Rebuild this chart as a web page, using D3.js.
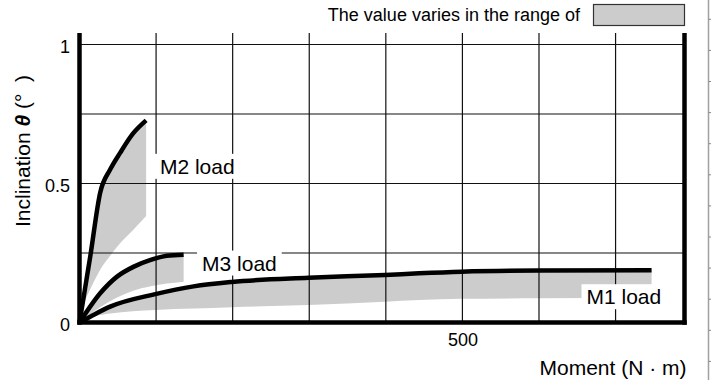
<!DOCTYPE html>
<html>
<head>
<meta charset="utf-8">
<script src="https://cdn.jsdelivr.net/npm/d3@7"></script>
<style>
  body { margin: 0; background: #fff; }
  svg { display: block; font-family: "Liberation Sans", Arial, Helvetica, sans-serif; }
</style>
</head>
<body>
<svg id="chart" width="711" height="380"></svg>
<script>
// Moment (N·m) sample points and inclination (deg) for each load case.
// "upper" is the typical curve, "lower" the bottom of the spread band.
const m1Moment = [0, 20, 40, 99, 149, 199, 299, 399, 443, 499, 599, 747];
const m1Upper  = [0, 0.03, 0.057, 0.102, 0.13, 0.146, 0.161, 0.171, 0.177, 0.183, 0.187, 0.188];
const m1Lower  = [0, 0.022, 0.032, 0.045, 0.05, 0.055, 0.063, 0.075, 0.081, 0.085, 0.087, 0.09];

const m2Moment = [0, 9, 14, 27, 40, 53, 70, 87];
const m2Upper  = [0, 0.152, 0.237, 0.467, 0.55, 0.61, 0.68, 0.727];
const m2Lower  = [0, 0.09, 0.12, 0.19, 0.24, 0.285, 0.333, 0.383];

const m3Moment = [0, 27, 49, 71, 93, 114, 136];
const m3Upper  = [0, 0.105, 0.165, 0.201, 0.225, 0.24, 0.244];
const m3Lower  = [0, 0.055, 0.09, 0.115, 0.13, 0.14, 0.147];

// Series labels and where they sit (moment, inclination at label middle-left)
const seriesNames   = ["M1 load", "M2 load", "M3 load"];
const labelMoment   = [662, 105, 160];
const labelIncl     = [0.093, 0.562, 0.214];

// Axis ticks and grid
const xTickValues = [500];
const yTickValues = [0, 0.5, 1];
const yTickLabels = ["0", "0.5", "1"];
const xGridValues = [100, 200, 300, 400, 500, 600, 700];
const yGridValues = [0.25, 0.5, 0.75, 1];

const svg = d3.select("#chart");
const x = d3.scaleLinear().domain([0, 790]).range([79.5, 684.5]);
const y = d3.scaleLinear().domain([0, 1]).range([322.5, 44.5]);
const frameTop = 33;

const series = [
  { name: seriesNames[0], xs: m1Moment, up: m1Upper, lo: m1Lower },
  { name: seriesNames[1], xs: m2Moment, up: m2Upper, lo: m2Lower },
  { name: seriesNames[2], xs: m3Moment, up: m3Upper, lo: m3Lower }
];

// Spread bands
const area = d3.area()
  .x(d => x(d.m)).y0(d => y(d.lo)).y1(d => y(d.up))
  .curve(d3.curveMonotoneX);
svg.append("g").selectAll("path").data(series).join("path")
  .attr("d", s => area(s.xs.map((m, i) => ({ m, up: s.up[i], lo: s.lo[i] }))))
  .attr("fill", "#cccccc");

// Grid
const grid = svg.append("g").attr("stroke", "#111").attr("stroke-width", 1.2);
grid.selectAll("line.v").data(xGridValues).join("line").attr("class", "v")
  .attr("x1", d => x(d)).attr("x2", d => x(d))
  .attr("y1", frameTop).attr("y2", y(0));
grid.selectAll("line.h").data(yGridValues).join("line").attr("class", "h")
  .attr("x1", x(0)).attr("x2", x.range()[1])
  .attr("y1", d => y(d)).attr("y2", d => y(d));

// Heavy frame: left axis, bottom axis, right edge
const frame = svg.append("g").attr("stroke", "#000").attr("stroke-width", 4.5);
frame.append("line").attr("x1", x(0)).attr("x2", x(0)).attr("y1", frameTop).attr("y2", y(0) + 2.2);
frame.append("line").attr("x1", x(0) - 2.2).attr("x2", x.range()[1] + 2.2).attr("y1", y(0)).attr("y2", y(0));
frame.append("line").attr("x1", x.range()[1]).attr("x2", x.range()[1]).attr("y1", frameTop).attr("y2", y(0) + 2.2);

// Tick labels
const yAxis = svg.append("g").attr("transform", `translate(${x(0)},0)`)
  .call(d3.axisLeft(y).tickValues(yTickValues).tickSize(0).tickPadding(9.5)
    .tickFormat((d, i) => yTickLabels[i]));
yAxis.select(".domain").remove();
yAxis.selectAll("text").attr("font-size", 18).attr("fill", "#000")
  .attr("font-family", "Liberation Sans, Arial, sans-serif").attr("dy", "0.42em");

const xAxis = svg.append("g").attr("transform", `translate(0,${y(0)})`)
  .call(d3.axisBottom(x).tickValues(xTickValues).tickSize(0).tickPadding(11));
xAxis.select(".domain").remove();
xAxis.selectAll("text").attr("font-size", 18).attr("fill", "#000")
  .attr("font-family", "Liberation Sans, Arial, sans-serif");

// Typical curves
const line = d3.line().x(d => x(d.m)).y(d => y(d.v)).curve(d3.curveMonotoneX);
svg.append("g").selectAll("path").data(series).join("path")
  .attr("d", s => line(s.xs.map((m, i) => ({ m, v: s.up[i] }))))
  .attr("fill", "none").attr("stroke", "#000").attr("stroke-width", 4.5)
  .attr("stroke-linejoin", "round").attr("stroke-linecap", "butt");

// Series labels on white boxes
series.forEach((s, i) => {
  const g = svg.append("g");
  const t = g.append("text")
    .attr("x", x(labelMoment[i])).attr("y", y(labelIncl[i]))
    .attr("dy", "0.36em").attr("font-size", 21).attr("fill", "#000")
    .text(s.name);
  const b = t.node().getBBox();
  g.insert("rect", "text")
    .attr("x", b.x - 5).attr("y", b.y - 1).attr("width", b.width + 10).attr("height", b.height + 2)
    .attr("fill", "#fff");
});

// Axis titles
svg.append("text").attr("x", 686.5).attr("y", 375).attr("text-anchor", "end")
  .attr("font-size", 21).attr("fill", "#000").text("Moment (N · m)");

const yt = svg.append("text").attr("transform", "translate(30,227) rotate(-90)")
  .attr("font-size", 21).attr("fill", "#000").style("white-space", "pre");
yt.append("tspan").text("Inclination ");
yt.append("tspan").attr("font-weight", "bold").attr("font-style", "italic").text("θ");
yt.append("tspan").text(" (°\u00a0\u00a0)");

// Legend for the spread band
svg.append("text").attr("x", 580).attr("y", 21).attr("text-anchor", "end")
  .attr("font-size", 18).attr("fill", "#000").text("The value varies in the range of");
svg.append("rect").attr("x", 593.5).attr("y", 4.5).attr("width", 91).attr("height", 21)
  .attr("fill", "#cccccc").attr("stroke", "#333").attr("stroke-width", 1.2);

// Edge of the neighbouring panel with its small ticks
svg.append("line").attr("x1", 708.5).attr("x2", 708.5).attr("y1", 0).attr("y2", 380)
  .attr("stroke", "#a0a0a0").attr("stroke-width", 1.5);
svg.append("g").selectAll("line").data(d3.range(12)).join("line")
  .attr("x1", 708.5).attr("x2", 711)
  .attr("y1", d => 19.3 + d * 31.1).attr("y2", d => 19.3 + d * 31.1)
  .attr("stroke", "#888").attr("stroke-width", 1);
</script>
</body>
</html>
